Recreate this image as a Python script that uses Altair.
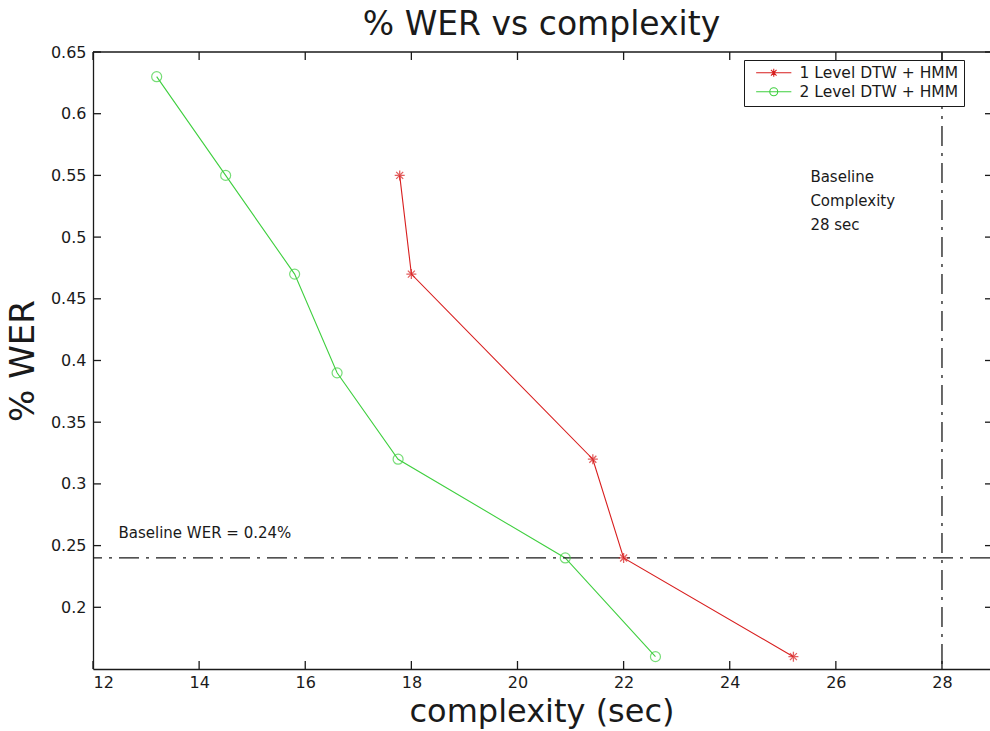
import altair as alt
import pandas as pd

# ---- data ----
series_names = ["1 Level DTW + HMM", "2 Level DTW + HMM"]

one_level_complexity = [17.78, 18.0, 21.42, 22.0, 25.2]
one_level_wer = [0.55, 0.47, 0.32, 0.24, 0.16]

two_level_complexity = [13.2, 14.5, 15.8, 16.6, 17.75, 20.9, 22.6]
two_level_wer = [0.63, 0.55, 0.47, 0.39, 0.32, 0.24, 0.16]

baseline_wer = 0.24
baseline_complexity = 28

x_ticks = [12, 14, 16, 18, 20, 22, 24, 26, 28]
y_ticks = [0.2, 0.25, 0.3, 0.35, 0.4, 0.45, 0.5, 0.55, 0.6, 0.65]

wer_note = "Baseline WER = 0.24%"
wer_note_pos = (12.48, 0.26)
complexity_note = ["Baseline", "Complexity", "28 sec"]
complexity_note_x = 25.52
complexity_note_y = [0.549, 0.529, 0.5095]

# ---- styling ----
W, H = 897, 617
FONT = "DejaVu Sans"
RED = "#d81e1e"
GREEN = "#3fcf3f"
INK = "#1a1a1a"
DASHDOT = [20, 7, 3, 7]
TICK = 8

ASTERISK = "M-1,0L1,0M0,-1L0,1M-0.7,-0.7L0.7,0.7M-0.7,0.7L0.7,-0.7"
LEG_ASTERISK = "M-4.4,0L4.4,0" + ASTERISK
LEG_CIRCLE = "M-4.4,0L4.4,0M1,0A1,1 0 1,1 -1,0A1,1 0 1,1 1,0"

xscale = alt.Scale(domain=[12, 28.905], nice=False, zero=False)
yscale = alt.Scale(domain=[0.15, 0.65], nice=False, zero=False)

df = pd.DataFrame({
    "complexity": one_level_complexity + two_level_complexity,
    "wer": one_level_wer + two_level_wer,
    "series": [series_names[0]] * len(one_level_complexity)
    + [series_names[1]] * len(two_level_complexity),
})

base = alt.Chart(df)

# every layer shares the same axis definition so the merged axes stay intact
X = alt.X(
    "complexity:Q", scale=xscale,
    axis=alt.Axis(values=x_ticks, title="complexity (sec)", grid=False,
                  ticks=False, tickSize=0, labelPadding=5, labelFontSize=16,
                  labelFont=FONT, titleFont=FONT,
                  titleFontSize=32, titleFontWeight="normal", titlePadding=6,
                  domainColor=INK, domainWidth=1.3, labelColor=INK, titleColor=INK),
)
Y = alt.Y(
    "wer:Q", scale=yscale,
    axis=alt.Axis(values=y_ticks, format="~g", title="% WER", grid=False,
                  ticks=False, tickSize=0, labelPadding=7, labelFontSize=16,
                  labelFont=FONT, titleFont=FONT,
                  titleFontSize=34, titleFontWeight="normal", titlePadding=10,
                  domainColor=INK, domainWidth=1.3, labelColor=INK, titleColor=INK),
)

one_level = base.transform_filter(alt.datum.series == series_names[0])
two_level = base.transform_filter(alt.datum.series == series_names[1])

line1 = one_level.mark_line(color=RED, strokeWidth=1.1).encode(x=X, y=Y)
line2 = two_level.mark_line(color=GREEN, strokeWidth=1.1).encode(x=X, y=Y)
pts1 = one_level.mark_point(shape=ASTERISK, size=100, color=RED, strokeWidth=1.3,
                            filled=False).encode(x=X, y=Y)
pts2 = two_level.mark_point(shape="circle", size=100, color=GREEN, strokeWidth=1.2,
                            filled=False).encode(x=X, y=Y)

legend_props = dict(
    title=None, orient="none", legendX=651, legendY=8,
    strokeColor=INK, fillColor="white", padding=5,
    symbolSize=64, symbolStrokeWidth=1.1, symbolOpacity=1,
    symbolOffset=17, labelOffset=18, labelFont=FONT, labelFontSize=15.5,
    labelLimit=400, labelColor=INK, rowPadding=2,
)
legend_layer = base.mark_point(opacity=0, filled=False).encode(
    x=X, y=Y,
    color=alt.Color("series:N", scale=alt.Scale(domain=series_names, range=[RED, GREEN]),
                    legend=alt.Legend(**legend_props)),
    shape=alt.Shape("series:N", scale=alt.Scale(domain=series_names,
                                                range=[LEG_ASTERISK, LEG_CIRCLE]),
                    legend=alt.Legend(**legend_props)),
)

# reference lines
hline = alt.Chart(pd.DataFrame({"wer": [baseline_wer]})).mark_rule(
    color=INK, strokeWidth=1.3, strokeDash=DASHDOT).encode(y=Y)
vline = alt.Chart(pd.DataFrame({"complexity": [baseline_complexity]})).mark_rule(
    color=INK, strokeWidth=1.3, strokeDash=DASHDOT).encode(x=X)

# annotations
note1 = alt.Chart(pd.DataFrame({"complexity": [wer_note_pos[0]], "wer": [wer_note_pos[1]],
                                "t": [wer_note]})).mark_text(
    align="left", baseline="middle", font=FONT, fontSize=15, color=INK
).encode(x=X, y=Y, text="t:N")
note2 = alt.Chart(pd.DataFrame({"complexity": [complexity_note_x] * 3,
                                "wer": complexity_note_y, "t": complexity_note})).mark_text(
    align="left", baseline="middle", font=FONT, fontSize=15, color=INK
).encode(x=X, y=Y, text="t:N")

# box frame: top edge and inward ticks
top_edge = alt.Chart(pd.DataFrame({"k": [0]})).mark_rule(color=INK, strokeWidth=1.3).encode(
    x=alt.value(0), x2=alt.value(W), y=alt.value(0))
xt = pd.DataFrame({"complexity": x_ticks})
yt = pd.DataFrame({"wer": y_ticks})
tick_style = dict(color=INK, strokeWidth=1.3)
bottom_ticks = alt.Chart(xt).mark_rule(**tick_style).encode(
    x=X, y=alt.value(H), y2=alt.value(H - TICK))
top_ticks = alt.Chart(xt).mark_rule(**tick_style).encode(
    x=X, y=alt.value(0), y2=alt.value(TICK))
left_ticks = alt.Chart(yt).mark_rule(**tick_style).encode(
    y=Y, x=alt.value(0), x2=alt.value(TICK))
right_ticks = alt.Chart(yt).mark_rule(**tick_style).encode(
    y=Y, x=alt.value(W - 5), x2=alt.value(W))

chart = alt.layer(
    line1, line2, hline, vline, pts1, pts2, legend_layer, note1, note2,
    top_edge, bottom_ticks, top_ticks, left_ticks, right_ticks,
).properties(
    width=W, height=H,
    title=alt.TitleParams("% WER vs complexity", font=FONT, fontSize=33,
                          fontWeight="normal", color=INK, anchor="middle", offset=2),
    autosize=alt.AutoSizeParams(type="none"),
    padding={"left": 93, "top": 52, "right": 0, "bottom": 62},
).configure(
    background="white"
).configure_view(
    stroke=None
).configure_axis(
    labelFont=FONT, titleFont=FONT
)

chart.save("out.html", embed_options={"renderer": "svg", "actions": False})
